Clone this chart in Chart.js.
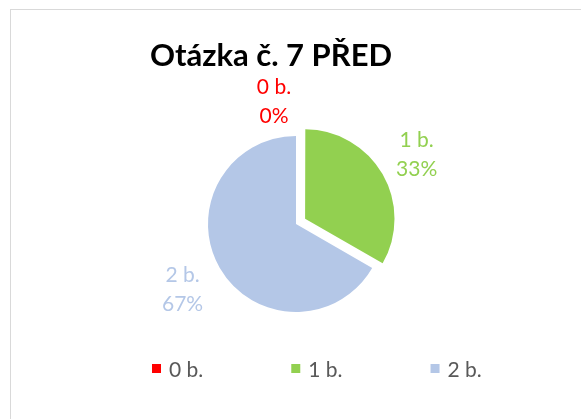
<!DOCTYPE html>
<html>
<head>
<meta charset="utf-8">
<script src="https://cdn.jsdelivr.net/npm/chart.js@4.4.0/dist/chart.umd.min.js"></script>
<style>
  html, body { margin: 0; padding: 0; background: #ffffff; overflow: hidden; }
  #wrap { position: relative; width: 581px; height: 419px; overflow: hidden; }
  #frame { position: absolute; left: 10px; top: 9px; width: 700px; height: 600px; border: 1.5px solid #d9d9d9; box-sizing: border-box; }
  #c { position: absolute; left: 0; top: 0; }
</style>
</head>
<body>
<div id="wrap">
  <div id="frame"></div>
  <canvas id="c" width="581" height="419"></canvas>
</div>
<script>
// ---- data ----
const chartTitle = 'Otázka č. 7 PŘED';
const categories = ['0 b.', '1 b.', '2 b.'];
const values = [0, 1, 2];
const percentLabels = ['0%', '33%', '67%'];
const sliceColors = ['#FF0000', '#92D050', '#B4C7E7'];

const FONT = 'Lato, "Open Sans", sans-serif';

// Chart.js translates an arc by offset/4 * (1 + (1 - sin(circumference)))
function arcShift(offset, circumference) {
  const o = (offset || 0) / 4;
  const fix = 1 - Math.sin(Math.min(Math.PI, circumference || 0));
  return o + o * fix;
}

const overlayPlugin = {
  id: 'overlay',
  afterDraw(chart, args, opts) {
    const ctx = chart.ctx;
    ctx.save();
    // Title
    ctx.fillStyle = '#000000';
    ctx.font = 'bold 31px ' + FONT;
    ctx.textAlign = 'center';
    ctx.textBaseline = 'alphabetic';
    ctx.fillText(chartTitle, 271, 66);

    // Data labels
    const meta = chart.getDatasetMeta(0);
    ctx.font = '21px ' + FONT;
    meta.data.forEach((arc, i) => {
      const p = arc.getProps(['x', 'y', 'startAngle', 'endAngle', 'outerRadius', 'circumference']);
      const mid = (p.startAngle + p.endAngle) / 2;
      const shift = arcShift(arc.options.offset, p.circumference);
      const d = p.outerRadius + 43 + shift * 0.7;
      const n = opts.nudges[i] || [0, 0];
      const cx = p.x + Math.cos(mid) * d + n[0];
      const cy = p.y + Math.sin(mid) * d + n[1];
      ctx.fillStyle = sliceColors[i];
      ctx.textAlign = 'center';
      ctx.textBaseline = 'middle';
      ctx.fillText(categories[i], cx, cy - 14.5);
      ctx.fillText(percentLabels[i], cx, cy + 14.5);
    });

    // Legend
    ctx.font = '21px ' + FONT;
    ctx.textAlign = 'left';
    ctx.textBaseline = 'alphabetic';
    let x = 152;
    categories.forEach((label, i) => {
      ctx.fillStyle = sliceColors[i];
      ctx.fillRect(x, 364, 9, 9);
      ctx.fillStyle = '#595959';
      ctx.fillText(label, x + 17, 376.5);
      x += 17 + ctx.measureText(label).width + 88;
    });
    ctx.restore();
  }
};

new Chart(document.getElementById('c'), {
  type: 'pie',
  data: {
    labels: categories,
    datasets: [{
      data: values,
      backgroundColor: sliceColors,
      borderWidth: 0,
      offset: [0, 42, 0]
    }]
  },
  options: {
    responsive: false,
    animation: false,
    radius: 88,
    layout: { padding: { top: 130, bottom: 101, left: 150, right: 139 } },
    plugins: {
      legend: { display: false },
      title: { display: false },
      tooltip: { enabled: false },
      overlay: { nudges: [[-22, 9], [0, 0], [0, 0]] }
    }
  },
  plugins: [overlayPlugin]
});
</script>
</body>
</html>
